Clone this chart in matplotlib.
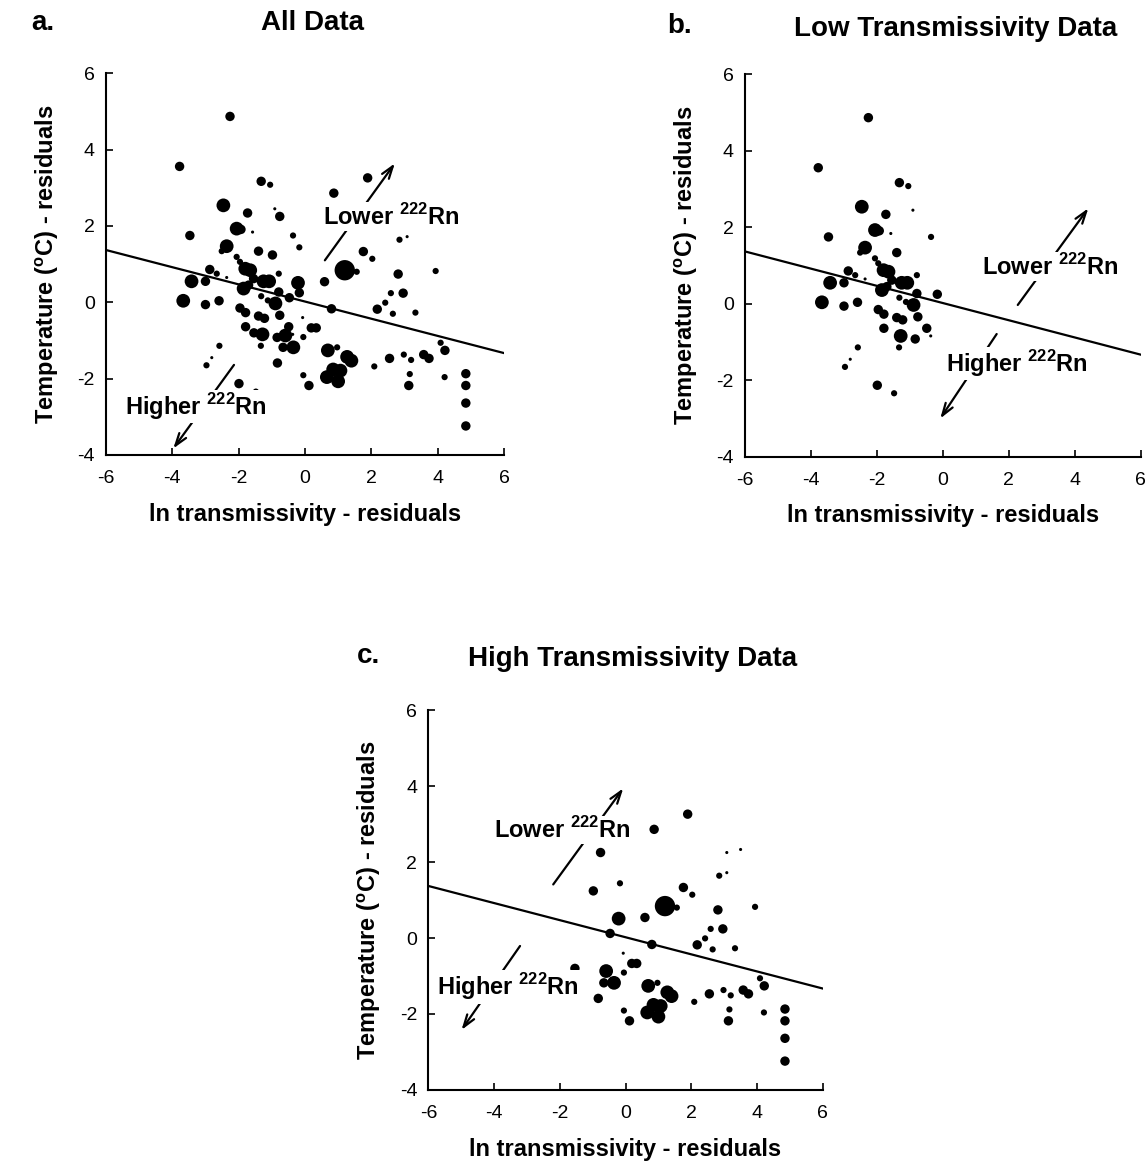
import numpy as np
import matplotlib
matplotlib.use("Agg")
import matplotlib.pyplot as plt

plt.rcParams['font.family'] = ['Liberation Sans', 'DejaVu Sans']
plt.rcParams['mathtext.fontset'] = 'custom'
plt.rcParams['mathtext.rm'] = 'Liberation Sans'
plt.rcParams['mathtext.bf'] = 'Liberation Sans:bold'
plt.rcParams['axes.unicode_minus'] = False

# low transmissivity residuals (panel b)
x_low = [-2.26, -3.78, -1.32, -1.05, -2.46, -0.91, -1.73, -2.06, -1.93, -3.47,
         -0.36, -1.58, -2.36, -2.51, -1.40, -2.06, -1.96, -1.80, -1.65, -2.87,
         -2.66, -0.79, -2.36, -3.42, -3.00, -1.55, -1.25, -1.08, -1.85, -1.70,
         -0.79, -0.17, -3.67, -2.59, -3.00, -1.32, -1.12, -0.89, -1.96, -1.79,
         -0.76, -1.40, -1.22, -1.79, -0.49, -1.28, -0.37, -0.84, -1.33, -2.58,
         -2.81, -2.97, -1.99, -1.48]
y_low = [4.87, 3.56, 3.17, 3.08, 2.54, 2.45, 2.34, 1.93, 1.91, 1.75,
         1.75, 1.84, 1.47, 1.34, 1.34, 1.19, 1.06, 0.88, 0.84, 0.86,
         0.75, 0.75, 0.65, 0.55, 0.55, 0.62, 0.55, 0.55, 0.36, 0.45,
         0.27, 0.25, 0.04, 0.04, -0.06, 0.16, 0.05, -0.03, -0.15, -0.27,
         -0.34, -0.36, -0.42, -0.64, -0.64, -0.84, -0.84, -0.92, -1.14, -1.14,
         -1.45, -1.65, -2.13, -2.34]
rn_low = [3, 3, 3, 2, 4, 1, 3, 4, 3, 3,
          2, 1, 4, 2, 3, 2, 2, 4, 4, 3,
          2, 2, 1, 4, 3, 3, 4, 4, 4, 3,
          3, 3, 4, 3, 3, 2, 2, 4, 3, 3,
          3, 3, 3, 3, 3, 4, 1, 3, 2, 2,
          1, 2, 3, 2]

# high transmissivity residuals (panel c)
x_high = [1.89, 0.87, -0.76, 3.08, 3.50, 2.85, 3.08, -0.98, -0.17, 1.76,
          2.03, 1.20, 1.56, 3.94, -0.21, 0.59, 2.81, 2.96, 2.59, -0.47,
          2.42, 2.18, 0.80, 2.65, 3.33, -0.07, -1.54, 0.19, 0.34, -0.59,
          -0.05, -0.66, -0.35, 0.69, 0.97, 1.27, 1.40, -0.83, 2.55, 2.98,
          3.20, 3.58, 3.74, 4.09, 4.22, 2.09, 0.85, 1.07, 0.66, 1.00,
          -0.05, 0.12, 3.16, 3.13, 4.21, 4.85, 4.85, 4.85, 4.85]
y_high = [3.26, 2.86, 2.25, 2.25, 2.33, 1.64, 1.72, 1.24, 1.44, 1.33,
          1.14, 0.84, 0.80, 0.82, 0.51, 0.54, 0.74, 0.24, 0.24, 0.12,
          -0.01, -0.18, -0.17, -0.30, -0.27, -0.40, -0.80, -0.67, -0.67, -0.87,
          -0.91, -1.18, -1.18, -1.26, -1.18, -1.43, -1.53, -1.59, -1.47, -1.37,
          -1.51, -1.37, -1.47, -1.06, -1.26, -1.68, -1.76, -1.79, -1.96, -2.07,
          -1.91, -2.18, -1.88, -2.18, -1.96, -1.87, -2.18, -2.64, -3.24]
rn_high = [3, 3, 3, 1, 1, 2, 1, 3, 2, 3,
           2, 5, 2, 2, 4, 3, 3, 3, 2, 3,
           2, 3, 3, 2, 2, 1, 3, 3, 3, 4,
           2, 3, 4, 4, 2, 4, 4, 3, 3, 2,
           2, 3, 3, 2, 3, 2, 4, 4, 4, 4,
           2, 3, 2, 3, 2, 3, 3, 3, 3]

fit_slope = -0.225
fit_intercept = 0.02

panels = [
    ("a.", "All Data", x_low + x_high, y_low + y_high, rn_low + rn_high),
    ("b.", "Low Transmissivity Data", x_low, y_low, rn_low),
    ("c.", "High Transmissivity Data", x_high, y_high, rn_high),
]

# text anchor (x, y) and arrow start/end for "Lower" and "Higher" labels
notes = [
    {"lower": (0.55, 2.24), "lower_arrow": ((0.60, 1.10), (2.71, 3.64)),
     "higher": (-5.43, -2.73), "higher_arrow": ((-2.14, -1.64), (-3.97, -3.83))},
    {"lower": (1.18, 0.97), "lower_arrow": ((2.27, -0.03), (4.41, 2.50)),
     "higher": (0.10, -1.56), "higher_arrow": ((1.63, -0.79), (-0.08, -3.0))},
    {"lower": (-4.0, 2.84), "lower_arrow": ((-2.20, 1.41), (-0.07, 3.94)),
     "higher": (-5.73, -1.28), "higher_arrow": ((-3.21, -0.21), (-4.99, -2.42))},
]

axes_pos = [
    [0.0923, 0.6108, 0.3467, 0.3265],
    [0.6490, 0.6093, 0.3447, 0.3270],
    [0.3731, 0.0676, 0.3436, 0.3250],
]
letter_pos = [(0.037, 0.980), (0.592, 0.978), (0.321, 0.439)]
title_pos = [(0.272, 0.980), (0.832, 0.975), (0.551, 0.436)]

size_map = {1: 5, 2: 20, 3: 46, 4: 98, 5: 215}

fig = plt.figure(figsize=(11.48, 11.69), dpi=100)

for k, (letter, title, xs, ys, rn) in enumerate(panels):
    ax = fig.add_axes(axes_pos[k])
    s = [size_map[v] for v in rn]
    ax.scatter(xs, ys, s=s, c='black', linewidths=0, zorder=3)

    xl = np.array([-6, 6])
    ax.plot(xl, fit_intercept + fit_slope * xl, color='black', lw=1.6, zorder=2)

    n = notes[k]
    for key in ("lower", "higher"):
        (x0, y0), (x1, y1) = n[key + "_arrow"]
        ax.annotate("", xy=(x1, y1), xytext=(x0, y0),
                    arrowprops=dict(arrowstyle="->,head_length=0.9,head_width=0.3",
                                    lw=1.6, color='black', shrinkA=0, shrinkB=0),
                    zorder=4)
        word = "Lower" if key == "lower" else "Higher"
        label = word + r" $^{\mathbf{222}}$Rn"
        ax.text(n[key][0], n[key][1], label, fontsize=17, fontweight='bold',
                ha='left', va='center', zorder=5,
                bbox=dict(facecolor='white', edgecolor='none', pad=1))

    ax.set_xlim(-6, 6)
    ax.set_ylim(-4, 6)
    ax.set_xticks(np.arange(-6, 7, 2))
    ax.set_yticks(np.arange(-4, 7, 2))
    ax.spines['top'].set_visible(False)
    ax.spines['right'].set_visible(False)
    ax.spines['left'].set_linewidth(1.5)
    ax.spines['bottom'].set_linewidth(1.5)
    ax.tick_params(direction='in', length=5, width=1.2, labelsize=14)
    ax.tick_params(axis='x', pad=11)
    ax.tick_params(axis='y', pad=8)
    ax.set_xlabel("ln transmissivity - residuals", fontsize=17,
                  fontweight='bold', labelpad=11)
    ax.set_ylabel(r"Temperature ($^{\mathbf{o}}$C) - residuals", fontsize=17,
                  fontweight='bold', labelpad=12)

    fig.text(letter_pos[k][0], letter_pos[k][1], letter, fontsize=20,
             fontweight='bold', ha='center', va='center')
    fig.text(title_pos[k][0], title_pos[k][1], title, fontsize=20,
             fontweight='bold', ha='center', va='center')

fig.savefig("out.png", dpi=100)
